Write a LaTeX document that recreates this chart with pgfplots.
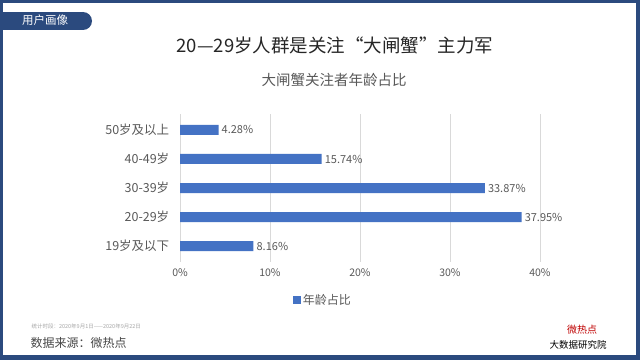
\documentclass[border=0pt]{standalone}
\usepackage{pgfplots}
\pgfplotsset{compat=1.18}
\usepackage{fontspec}
\setmainfont{Noto Sans CJK SC}
\definecolor{frameblue}{HTML}{2B4A7E}
\definecolor{barblue}{HTML}{4472C4}
\definecolor{txtgray}{HTML}{595959}
\definecolor{titlegray}{HTML}{262626}
\definecolor{gridgray}{HTML}{D9D9D9}
\begin{document}
\begin{tikzpicture}
\useasboundingbox (0,0) rectangle (640bp,360bp);
\begin{scope}[x=1bp,y=1bp]
\fill[frameblue] (0,0) rectangle (640,360);
\fill[white] (3,5) rectangle (636,357);
% tab
\fill[frameblue] (0,330) rectangle (83,348);
\fill[frameblue] (83,339) circle (9);
\node[text=white, font=\fontsize{11.5bp}{13bp}\selectfont] at (45,339.5) {用户画像};
% titles
\node[text=titlegray, font=\fontsize{18.5bp}{22bp}\selectfont] at (335,315) {20—29岁人群是关注“大闸蟹”主力军};
\node[text=txtgray, font=\fontsize{14.5bp}{17bp}\selectfont] at (334,280) {大闸蟹关注者年龄占比};
% footer
\node[text=gray!70, font=\fontsize{5.5bp}{6bp}\selectfont, anchor=west] at (28,34) {统计时段：2020年9月1日——2020年9月22日};
\node[text=titlegray!85, font=\fontsize{12bp}{14bp}\selectfont, anchor=west] at (27,17) {数据来源：微热点};
% logo
\node[text=red!75!black, font=\fontsize{10bp}{11bp}\selectfont] at (582,30) {微热点};
\node[text=black, font=\fontsize{9.5bp}{11bp}\selectfont] at (578,15) {大数据研究院};
\end{scope}
\begin{axis}[
  at={(180bp,98bp)}, anchor=south west,
  scale only axis, width=360bp, height=148bp,
  xbar, bar width=10bp,
  xmin=0, xmax=40, ymin=-0.55, ymax=4.55,
  ytick={0,1,2,3,4},
  yticklabels={19岁及以下,20-29岁,30-39岁,40-49岁,50岁及以上},
  xtick={0,10,20,30,40},
  xticklabel={\pgfmathprintnumber{\tick}\%},
  /pgf/number format/assume math mode=true,
  axis line style={draw=none},
  major tick style={draw=none},
  xmajorgrids, grid style={gridgray, line width=0.6bp},
  yticklabel style={text=txtgray, font=\fontsize{12.5bp}{14bp}\selectfont, xshift=-3bp},
  xticklabel style={text=txtgray, font=\fontsize{10.5bp}{12bp}\selectfont, yshift=-3bp},
  nodes near coords={\pgfmathprintnumber[fixed,fixed zerofill,precision=2]{\pgfplotspointmeta}\%},
  point meta=x,
  nodes near coords style={text=txtgray, font=\fontsize{11bp}{12bp}\selectfont, anchor=west, inner sep=3bp},
  legend style={draw=none, at={(0.397,-0.257)}, anchor=center, font=\fontsize{12bp}{14bp}\selectfont, text=txtgray, inner sep=0pt},
  legend image code/.code={\fill[barblue] (0bp,-4bp) rectangle (8bp,4bp);},
]
\addplot[fill=barblue, draw=none] coordinates {(8.16,0) (37.95,1) (33.87,2) (15.74,3) (4.28,4)};
\addlegendentry{年龄占比}
\end{axis}
\end{tikzpicture}
\end{document}
